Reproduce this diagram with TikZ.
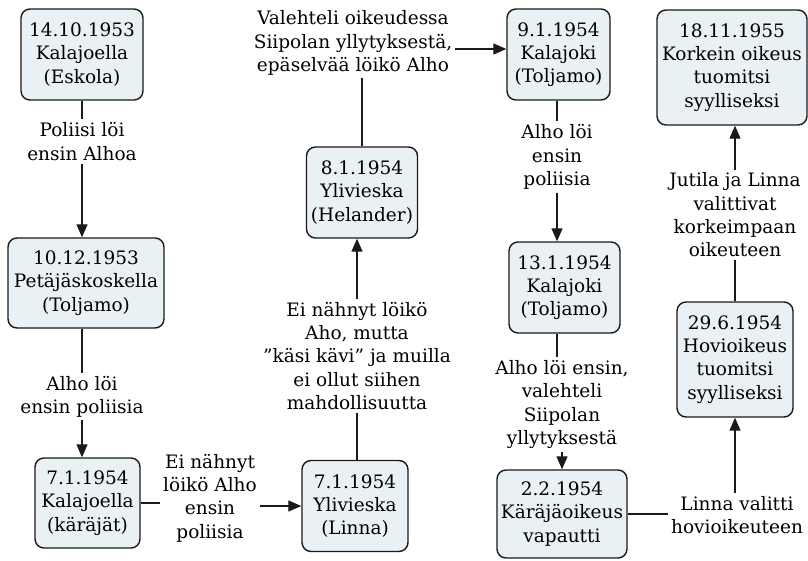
\documentclass[tikz,border=0pt]{standalone}
\usepackage{fontspec}
\setmainfont{DejaVu Serif}
\usetikzlibrary{arrows.meta}
\definecolor{boxfill}{HTML}{E9F1F4}
\definecolor{edgec}{HTML}{1A1A1A}
\begin{document}
\begin{tikzpicture}[x=1pt,y=-1pt,
  evt/.style={draw=edgec, line width=1.4pt, fill=boxfill, rounded corners=9pt, align=center, inner sep=0pt, text=black, font=\fontsize{18.5}{23.3}\selectfont},
  lbl/.style={align=center, inner sep=3pt, text=black, font=\fontsize{18.5}{23.3}\selectfont},
  conn/.style={draw=edgec, line width=1.3pt},
  arr/.style={conn, -{Triangle[length=13pt,width=11pt]}}]
\useasboundingbox (0,0) rectangle (808,560);
% event boxes
\node[evt, minimum width=122, minimum height=91] (b1) at (82,54.5) {14.10.1953\\Kalajoella\\(Eskola)};
\node[evt, minimum width=156, minimum height=90] (b2) at (86,283) {10.12.1953\\Petäjäskoskella\\(Toljamo)};
\node[evt, minimum width=105, minimum height=90] (b3) at (87.5,503) {7.1.1954\\Kalajoella\\(käräjät)};
\node[evt, minimum width=106, minimum height=91] (b4) at (355,506) {7.1.1954\\Ylivieska\\(Linna)};
\node[evt, minimum width=111, minimum height=91] (b5) at (362,192.5) {8.1.1954\\Ylivieska\\(Helander)};
\node[evt, minimum width=103, minimum height=91] (b6) at (558.5,54.5) {9.1.1954\\Kalajoki\\(Toljamo)};
\node[evt, minimum width=111, minimum height=91] (b7) at (564.5,287.5) {13.1.1954\\Kalajoki\\(Toljamo)};
\node[evt, minimum width=150, minimum height=115] (b8) at (732,67.5) {18.11.1955\\Korkein oikeus\\tuomitsi\\syylliseksi};
\node[evt, minimum width=116, minimum height=115] (b9) at (735,359.5) {29.6.1954\\Hovioikeus\\tuomitsi\\syylliseksi};
\node[evt, minimum width=130, minimum height=88] (b10) at (562,514) {2.2.1954\\Käräjäoikeus\\vapautti};
% labels
\node[lbl] (L1) at (82,141.5) {Poliisi löi\\ensin Alhoa};
\node[lbl] (L2) at (82,396.5) {Alho löi\\ensin poliisia};
\node[lbl] (L3) at (210,498) {Ei nähnyt\\löikö Alho\\ensin\\poliisia};
\node[lbl] (L4) at (357,356) {Ei nähnyt löikö\\Aho, mutta\\”käsi kävi” ja muilla\\ei ollut siihen\\mahdollisuutta};
\node[lbl] (L5) at (353,43) {Valehteli oikeudessa\\Siipolan yllytyksestä,\\epäselvää löikö Alho};
\node[lbl] (L6) at (557,157) {Alho löi\\ensin\\poliisia};
\node[lbl] (L7) at (562,404.5) {Alho löi ensin,\\valehteli\\Siipolan\\yllytyksestä};
\node[lbl] (L8) at (735,215) {Jutila ja Linna\\valittivat\\korkeimpaan\\oikeuteen};
\node[lbl] (L9) at (737,515) {Linna valitti\\hovioikeuteen};
% connectors
\draw[conn] (b1.south -| L1.north) -- (L1.north);
\draw[arr] (L1.south) -- (L1.south |- b2.north);
\draw[conn] (b2.south -| L2.north) -- (L2.north);
\draw[arr] (L2.south) -- (L2.south |- b3.north);
\draw[conn] (b3.east) -- (b3.east -| L3.west);
\draw[arr] (L3.east |- b4.west) -- (b4.west);
\draw[conn] (b4.north -| L4.south) -- (L4.south);
\draw[arr] (L4.north) -- (L4.north |- b5.south);
\draw[conn] (b5.north) -- (b5.north |- L5.south);
\draw[arr] ([yshift=-6pt]L5.east) -- ([yshift=-6pt]L5.east -| b6.west);
\draw[conn] (b6.south -| L6.north) -- (L6.north);
\draw[arr] (L6.south) -- (L6.south |- b7.north);
\draw[conn] (b7.south -| L6.south) -- (L7.north -| L6.south);
\draw[arr] (L7.south) -- (L7.south |- b10.north);
\draw[conn] (b10.east) -- (b10.east -| L9.west);
\draw[arr] (L9.north -| b9.south) -- (b9.south);
\draw[conn] (b9.north -| L8.south) -- (L8.south);
\draw[arr] (L8.north) -- (L8.north |- b8.south);
\end{tikzpicture}
\end{document}
